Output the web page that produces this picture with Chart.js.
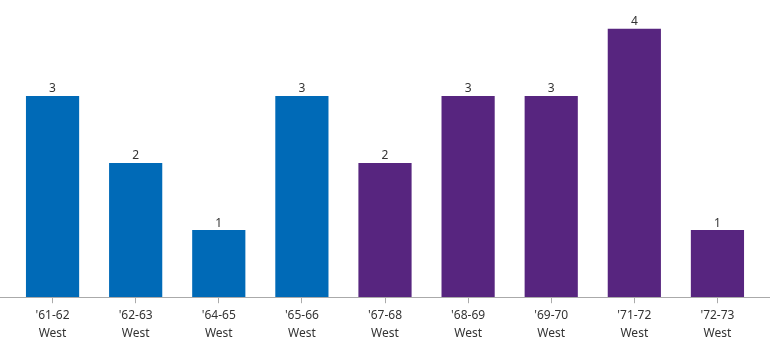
<!DOCTYPE html>
<html>
<head>
<meta charset="utf-8">
<script src="https://cdn.jsdelivr.net/npm/chart.js@4/dist/chart.umd.min.js"></script>
<style>
  html, body { margin: 0; padding: 0; background: #fff; }
  #wrap { width: 770px; height: 353px; }
</style>
</head>
<body>
<div id="wrap"><canvas id="seasonChart"></canvas></div>
<script>
const seasons = ["'61-62", "'62-63", "'64-65", "'65-66", "'67-68", "'68-69", "'69-70", "'71-72", "'72-73"];
const conference = ["West", "West", "West", "West", "West", "West", "West", "West", "West"];
const counts = [3, 2, 1, 3, 2, 3, 3, 4, 1];
const barColors = ["#006ab7", "#006ab7", "#006ab7", "#006ab7", "#57257f", "#57257f", "#57257f", "#57257f", "#57257f"];

const valueLabels = {
    id: 'valueLabels',
    afterDatasetsDraw(chart) {
        const ctx = chart.ctx;
        const meta = chart.getDatasetMeta(0);
        ctx.save();
        ctx.font = '12px "Noto Sans"';
        ctx.fillStyle = '#333';
        ctx.textAlign = 'center';
        ctx.textBaseline = 'bottom';
        meta.data.forEach((bar, i) => {
            ctx.fillText(counts[i], bar.x, bar.y - 1);
        });
        ctx.restore();
    }
};

// axis line runs across the whole width
const baseLine = {
    id: 'baseLine',
    afterDraw(chart) {
        const ctx = chart.ctx;
        const y = Math.round(chart.scales.x.top) + 0.5;
        ctx.save();
        ctx.strokeStyle = '#aaaaaa';
        ctx.lineWidth = 1;
        ctx.beginPath();
        ctx.moveTo(0, y);
        ctx.lineTo(chart.width, y);
        ctx.stroke();
        ctx.restore();
    }
};

new Chart("seasonChart", {
    type: 'bar',
    data: {
        labels: seasons.map((s, i) => [s, conference[i]]),
        datasets: [{
            data: counts,
            backgroundColor: barColors,
            categoryPercentage: 1,
            barPercentage: 0.64
        }]
    },
    options: {
        responsive: true,
        maintainAspectRatio: false,
        animation: false,
        layout: { padding: { left: 11, right: 11, top: 0, bottom: 7 } },
        plugins: {
            legend: { display: false },
            tooltip: { enabled: false }
        },
        scales: {
            x: {
                border: { display: false },
                grid: {
                    offset: false,
                    drawOnChartArea: false,
                    drawTicks: true,
                    tickLength: 6,
                    color: '#aaaaaa'
                },
                ticks: {
                    color: '#333',
                    padding: 4,
                    maxRotation: 0,
                    autoSkip: false,
                    font: { family: '"Noto Sans"', size: 12, lineHeight: 1.45 }
                }
            },
            y: {
                display: false,
                min: 0,
                max: 4.43
            }
        }
    },
    plugins: [valueLabels, baseLine]
});
</script>
</body>
</html>
